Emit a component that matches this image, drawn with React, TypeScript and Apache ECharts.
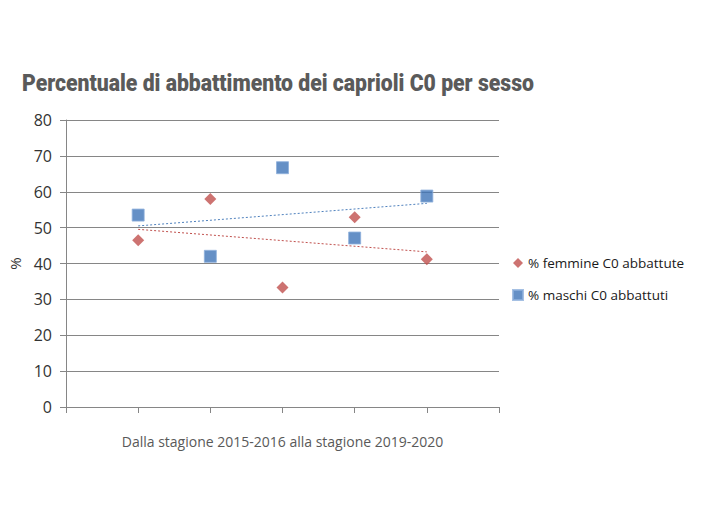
import React, { useEffect, useRef } from "react";
import * as echarts from "echarts";

const seasons = [1, 2, 3, 4, 5];
const femmine = [46.5, 58.0, 33.3, 52.9, 41.2];
const maschi = [53.5, 42.0, 66.7, 47.1, 58.8];
const yTicks = { min: 0, max: 80, interval: 10 };
const titleText = "Percentuale di abbattimento dei caprioli C0 per sesso";
const xName = "Dalla stagione 2015-2016 alla stagione 2019-2020";
const nameF = "% femmine C0 abbattute";
const nameM = "% maschi C0 abbattuti";

function trend(xs: number[], ys: number[]): number[][] {
  const n = xs.length;
  const mx = xs.reduce((a, b) => a + b, 0) / n;
  const my = ys.reduce((a, b) => a + b, 0) / n;
  let num = 0, den = 0;
  for (let i = 0; i < n; i++) {
    num += (xs[i] - mx) * (ys[i] - my);
    den += (xs[i] - mx) * (xs[i] - mx);
  }
  const b = num / den;
  const a = my - b * mx;
  const x0 = xs[0], x1 = xs[n - 1];
  return [[x0, a + b * x0], [x1, a + b * x1]];
}

const TITLE_FONT = "900 24px Roboto";
const TITLE_WIDTH = 512;

function measure(text: string, font: string): number {
  const c = document.createElement("canvas");
  const ctx = c.getContext("2d");
  if (!ctx) return TITLE_WIDTH;
  ctx.font = font;
  return ctx.measureText(text).width || TITLE_WIDTH;
}

export default function App() {
  const ref = useRef<HTMLDivElement>(null);
  useEffect(() => {
    const chart = echarts.init(ref.current!, undefined, { renderer: "svg" });
    const red = "#C0504D";
    const blue = "#4F81BD";
    const sx = TITLE_WIDTH / measure(titleText, TITLE_FONT);
    chart.setOption({
      animation: false,
      backgroundColor: "#ffffff",
      graphic: [
        {
          type: "text",
          x: 22,
          y: 71,
          scaleX: sx,
          style: {
            text: titleText,
            font: TITLE_FONT,
            fill: "#5a5a5a",
          },
        },
      ],
      grid: { left: 66, right: 206, top: 120, bottom: 119, outerBoundsMode: "none" },
      legend: {
        orient: "vertical",
        left: 507,
        top: 251,
        itemGap: 18,
        itemWidth: 10,
        itemHeight: 10,
        textStyle: { fontFamily: "Open Sans", fontSize: 13.5, color: "#1a1a1a" },
        data: [
          { name: nameF, icon: "diamond" },
          { name: nameM, icon: "rect" },
        ],
      },
      xAxis: {
        type: "value",
        min: 0,
        max: 6,
        interval: 1,
        name: xName,
        nameLocation: "middle",
        nameGap: 27,
        nameTextStyle: { fontFamily: "Open Sans", fontSize: 14, color: "#595959" },
        axisLabel: { show: false },
        axisLine: { show: true, lineStyle: { color: "#868686", width: 1 } },
        axisTick: { show: true, length: 6, lineStyle: { color: "#868686" } },
        splitLine: { show: false },
      },
      yAxis: {
        type: "value",
        min: yTicks.min,
        max: yTicks.max,
        interval: yTicks.interval,
        name: "%",
        nameLocation: "middle",
        nameGap: 42,
        nameRotate: 90,
        nameTextStyle: { fontFamily: "Open Sans", fontSize: 15, color: "#333" },
        axisLabel: { fontFamily: "Open Sans", fontSize: 16, color: "#333", margin: 14 },
        axisLine: { show: true, lineStyle: { color: "#868686", width: 1 } },
        axisTick: { show: true, length: 6, lineStyle: { color: "#868686" } },
        splitLine: { show: true, lineStyle: { color: "#868686", width: 1 } },
      },
      series: [
        {
          name: nameF,
          type: "scatter",
          symbol: "diamond",
          symbolSize: 12,
          itemStyle: { color: red },
          data: seasons.map((s, i) => [s, femmine[i]]),
          z: 5,
        },
        {
          name: nameM,
          type: "scatter",
          symbol: "rect",
          symbolSize: 12,
          itemStyle: { color: "#3f74b8", borderColor: "#8fb0dc", borderWidth: 1 },
          data: seasons.map((s, i) => [s, maschi[i]]),
          z: 5,
        },
        {
          name: "trendF",
          type: "line",
          symbol: "none",
          lineStyle: { color: red, width: 1, type: [2, 2] },
          data: trend(seasons, femmine),
          z: 3,
        },
        {
          name: "trendM",
          type: "line",
          symbol: "none",
          lineStyle: { color: blue, width: 1, type: [2, 2] },
          data: trend(seasons, maschi),
          z: 3,
        },
      ],
    });
    return () => chart.dispose();
  }, []);
  return (
    <div
      ref={ref}
      style={{ position: "fixed", left: 0, top: 0, width: 705, height: 526 }}
    />
  );
}
